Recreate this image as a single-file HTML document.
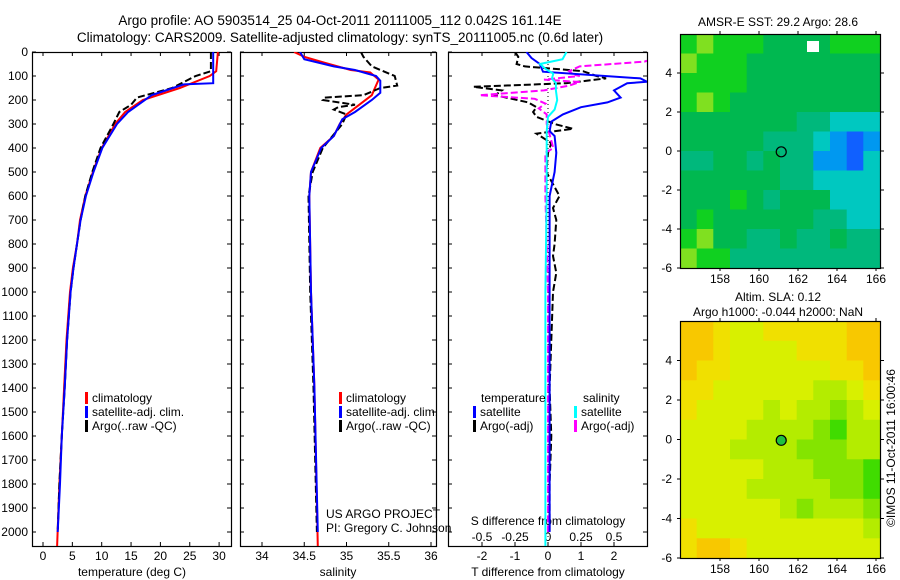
<!DOCTYPE html>
<html><head><meta charset="utf-8"><style>
body{margin:0;background:#fff;}
svg{display:block;font-family:"Liberation Sans",sans-serif;}
text{font-size:12px;fill:#000;}
</style></head><body>
<svg id="c" width="900" height="580" viewBox="0 0 900 580">
<text x="340" y="25" text-anchor="middle" style="font-size:13.5px">Argo profile: AO 5903514_25 04-Oct-2011 20111005_112 0.042S 161.14E</text>
<text x="340" y="42" text-anchor="middle" style="font-size:13.5px">Climatology: CARS2009. Satellite-adjusted climatology: synTS_20111005.nc (0.6d later)</text>
<g id="g"></g>
</svg>
<script>
// ---- data ----
const tDepth=[0,80,100,150,200,250,300,400,500,600,700,800,900,1000,1200,1400,1600,1800,2060];
const tClim=[29.8,29.5,28.4,23.3,17,14,12.3,10,8.5,7.2,6.3,5.8,5.1,4.6,4.0,3.6,3.2,2.8,2.4];
const tSatDepth=[0,130,135,180,250,300,400,500,600,700,800,900,1000,1200,1400,1600,1800,2000];
const tSat=[29.0,29.0,24,18.5,14.5,12.6,10.1,8.6,7.3,6.4,5.8,5.2,4.7,4.1,3.7,3.2,2.9,2.5];
const tArgoDepth=[0,80,100,150,190,220,250,300,400,500,600,700,800,900,1000,1200,1400,1600,1800,2000];
const tArgo=[28.6,28.6,26,22,16,15,13,12,9.8,8.4,7.2,6.4,5.8,5.2,4.7,4.1,3.7,3.2,2.8,2.5];
const sDepth=[0,20,46,75,85,115,180,220,260,300,350,400,500,600,1000,1400,2060];
const sClim=[34.38,34.5,34.75,35.05,35.28,35.38,35.3,35.15,35.0,34.92,34.85,34.69,34.58,34.56,34.58,34.62,34.66];
const sSatDepth=[0,30,60,75,100,120,170,200,250,280,350,400,500,600,1000,1400,2000];
const sSat=[34.45,34.5,34.85,35.1,35.35,35.4,35.4,35.3,35.1,34.95,34.85,34.7,34.58,34.56,34.58,34.62,34.66];
const sArgoDepth=[0,20,60,100,140,150,180,190,200,220,230,240,260,300,400,500,600,1000,1400,2000];
const sArgo=[35.17,35.2,35.3,35.57,35.6,35.4,35.2,34.74,34.72,35.1,34.9,34.85,35.0,34.95,34.72,34.6,34.55,34.57,34.61,34.65];
const dtSatDepth=[0,25,50,82,110,124,130,160,190,210,230,260,290,330,350,420,500,600,1000,1500,2000];
const dtSat=[-0.65,-0.5,-0.25,-0.15,2.8,3.0,2.4,2.0,2.2,1.8,1.0,0.45,0.1,0.05,0.2,0.25,0.2,0.05,0.05,0.05,0.05];
const dtArgoDepth=[0,20,50,60,80,100,110,130,145,160,180,210,230,250,270,300,320,340,380,420,500,600,650,700,800,850,920,1000,1200,1400,1600,1800,2000];
const dtArgo=[-1.0,-0.9,-0.95,-0.7,1.06,1.47,1.76,0.55,-2.26,-1.4,-1.6,-0.6,-0.35,-0.45,-0.35,0.2,0.76,-0.35,0.1,0.0,-0.05,0.35,0.15,0.25,0.2,0.15,0.25,0.15,0.1,0.05,0.1,0.05,0.05];
const dsSatDepth=[0,30,50,70,90,110,130,160,200,240,270,330,600,1000,2060];
const dsSat=[0.14,0.11,-0.06,-0.02,0.04,0.03,0.06,0.06,0.07,0.05,0.0,-0.01,-0.01,-0.02,-0.02];
const dsArgoDepth=[32,40,60,80,95,100,115,125,140,160,180,195,215,235,260,300,400,420,600,1000,1500,2000];
const dsArgo=[0.78,0.73,0.24,0.16,0.2,0.24,-0.03,0.24,0.16,-0.03,-0.52,-0.1,-0.02,-0.07,-0.01,-0.01,0.04,-0.02,-0.02,0.0,0.0,0.0];
// map grids (lat rows 6..-6, lon cols 156.2..166.4)
const sstGrid=[
"565554444555","655544444444","555544444444","565444444444",
"444444433222","444443332101","334434331102","444444332222",
"444543444222","454444443322","564433433433","655333333333"];
const slaGrid=[
"001221111100","001222211100","011222222110","112222223321",
"122223233432","222233334533","222333344433","222223334445",
"222233333445","222222343334","122222222223","100122222222"];
const depthTicks=[0,100,200,300,400,500,600,700,800,900,1000,1100,1200,1300,1400,1500,1600,1700,1800,1900,2000];
const tTicks=[0,5,10,15,20,25,30];
const sTicks=["34","34.5","35","35.5","36"];
const dtTicks=[-2,-1,0,1,2];
const dsTickLabels=["-0.5","-0.25","0","0.25","0.5"];
const dsTicks=[-0.5,-0.25,0,0.25,0.5];
const latTicks=[4,2,0,-2,-4,-6];
const lonTicks=[158,160,162,164,166];
const sstColors=["#1060ff","#0098f0","#00c8c0","#00b87c","#00b850","#10d020","#80e020"];
const slaColors=["#f8c800","#f0e000","#d8f000","#b4ec00","#84e400","#40dc00"];

// ---- helpers ----
const NS="http://www.w3.org/2000/svg";
const G=document.getElementById('g');
function el(tag,attrs,parent){const e=document.createElementNS(NS,tag);for(const k in attrs)e.setAttribute(k,attrs[k]);(parent||G).appendChild(e);return e;}
const yD=d=>52+d*0.24;
const P1={x0:32,x1:231},P2={x0:240,x1:436},P3={x0:448,x1:647},TOP=52,BOT=546;
const xT=t=>43+t*5.87;
const xS=s=>262+(s-34)*84.5;
const xDT=t=>548+t*33;
const xDS=s=>548+s*132;
function line(depths,vals,fx,color,dash,name){
  const pts=depths.map((d,i)=>fx(vals[i]).toFixed(1)+","+yD(d).toFixed(1)).join(" ");
  const p=el('polyline',{points:pts,fill:'none',stroke:color,'stroke-width':2,'clip-path':'url(#'+name.split('-')[0]+')'});
  if(dash)p.setAttribute('stroke-dasharray','7,3');
  
  
}
function clip(id,x0,x1,y0,y1){const d=el('clipPath',{id:id});el('rect',{x:x0,y:y0,width:x1-x0,height:y1-y0},d);}
clip('p1',P1.x0,P1.x1,TOP,BOT);clip('p2',P2.x0,P2.x1,TOP,BOT);clip('p3',P3.x0,P3.x1,TOP,BOT);
function frame(P,name){
  const r=el('rect',{x:P.x0+0.5,y:TOP+0.5,width:P.x1-P.x0,height:BOT-TOP,fill:'none',stroke:'#000','stroke-width':1.2});
  
  
  depthTicks.forEach(d=>{el('line',{x1:P.x0,x2:P.x0+4,y1:yD(d),y2:yD(d),stroke:'#000'});el('line',{x1:P.x1-4,x2:P.x1,y1:yD(d),y2:yD(d),stroke:'#000'});});
}
function xtick(x,label,y){el('line',{x1:x,x2:x,y1:BOT,y2:BOT-4,stroke:'#000'});el('line',{x1:x,x2:x,y1:TOP,y2:TOP+4,stroke:'#000'});
  const t=el('text',{x:x,y:y||560,'text-anchor':'middle'});t.textContent=label;
  
  }
function txt(x,y,s,name,anchor,extra){const t=el('text',Object.assign({x:x,y:y,'text-anchor':anchor||'start'},extra||{}));t.textContent=s;
  
  return t;}

// panel 1
frame(P1,'temperature-panel');frame(P2,'salinity-panel');frame(P3,'difference-panel');
depthTicks.forEach(d=>txt(28,yD(d)+4,String(d),'depth-tick-label','end'));
tTicks.forEach(t=>xtick(xT(t),String(t)));
sTicks.forEach(s=>xtick(xS(parseFloat(s)),s));
dtTicks.forEach(t=>xtick(xDT(t),String(t)));
dsTicks.forEach((s,i)=>{txt(xDS(s),541,dsTickLabels[i],'s-diff-tick-label','middle');});
txt(132,576,'temperature (deg C)','x-axis-title-temperature','middle');
txt(338,576,'salinity','x-axis-title-salinity','middle');
txt(548,576,'T difference from climatology','x-axis-title-t-diff','middle');
txt(548,525,'S difference from climatology','axis-title-s-diff','middle');
el('line',{x1:548,x2:548,y1:TOP,y2:BOT,stroke:'#000','stroke-dasharray':'1,3'});

line(tDepth,tClim,xT,'#f00',false,'p1-temp-climatology');
line(tArgoDepth,tArgo,xT,'#000',true,'p1-temp-argo');
line(tSatDepth,tSat,xT,'#00f',false,'p1-temp-satellite');
line(sDepth,sClim,xS,'#f00',false,'p2-sal-climatology');
line(sArgoDepth,sArgo,xS,'#000',true,'p2-sal-argo');
line(sSatDepth,sSat,xS,'#00f',false,'p2-sal-satellite');
line(dtArgoDepth,dtArgo,xDT,'#000',true,'p3-tdiff-argo');
line(dsArgoDepth,dsArgo,xDS,'#f0f',true,'p3-sdiff-argo');
line(dtSatDepth,dtSat,xDT,'#00f',false,'p3-tdiff-satellite');
line(dsSatDepth,dsSat,xDS,'#0ff',false,'p3-sdiff-satellite');

function leg(x,y,color,label,name){el('rect',{x:x,y:y-10,width:3,height:12,fill:color});txt(x+7,y,label,name);}
leg(85,402,'#f00','climatology','legend-climatology');leg(85,416,'#00f','satellite-adj. clim.','legend-satellite');leg(85,430,'#000','Argo(..raw -QC)','legend-argo');
leg(339,402,'#f00','climatology','legend-climatology-2');leg(339,416,'#00f','satellite-adj. clim.','legend-satellite-2');leg(339,430,'#000','Argo(..raw -QC)','legend-argo-2');
txt(481,402,'temperature','legend-temperature-header');txt(583,402,'salinity','legend-salinity-header');
leg(473,416,'#00f','satellite','legend-t-satellite');leg(473,430,'#000','Argo(-adj)','legend-t-argo');
leg(574,416,'#0ff','satellite','legend-s-satellite');leg(574,430,'#f0f','Argo(-adj)','legend-s-argo');
txt(326,518,'US ARGO PROJECT','credit-project');txt(326,532,'PI: Gregory C. Johnson','credit-pi');

// maps
function map(grid,colors,x0,y0,w,h,name,latTop,latPx){
  const rows=grid.length,cols=grid[0].length,cw=w/cols,ch=h/rows;
  grid.forEach((row,r)=>{for(let c=0;c<cols;c++){const v=+row[c];
    const cell=el('rect',{x:(x0+c*cw).toFixed(1),y:(y0+r*ch).toFixed(1),width:(cw+0.6).toFixed(1),height:(ch+0.6).toFixed(1),fill:colors[v]});
    
    }});
  const f=el('rect',{x:x0+0.5,y:y0+0.5,width:w,height:h,fill:'none',stroke:'#000','stroke-width':1.2});
  
  
  const yl=lat=>y0+(latTop-lat)*latPx, xl=lon=>720+(lon-158)*19.5;
  latTicks.forEach(l=>{const y=yl(l);el('line',{x1:x0+w,x2:x0+w+4,y1:y,y2:y,stroke:'#000'});el('line',{x1:x0-3,x2:x0,y1:y,y2:y,stroke:'#000'});txt(x0-8,y+4,String(l),'lat-tick-label','end');});
  lonTicks.forEach(l=>{const x=xl(l);el('line',{x1:x,x2:x,y1:y0+h,y2:y0+h+3,stroke:'#000'});el('line',{x1:x,x2:x,y1:y0-3,y2:y0,stroke:'#000'});txt(x,y0+h+15,String(l),'lon-tick-label','middle');});
  return {xl,yl};
}
const m1=map(sstGrid,sstColors,680,34,200,234,'sst-map',6,19.5);
el('circle',{cx:m1.xl(161.14),cy:m1.yl(-0.042),r:5,fill:'none',stroke:'#000','stroke-width':1.2});
el('rect',{x:807,y:41,width:12,height:11,fill:'#fff'});
txt(778,26,'AMSR-E SST: 29.2  Argo: 28.6','sst-map-title','middle');
const m2=map(slaGrid,slaColors,680,321,200,237,'sla-map',6,19.75);
el('circle',{cx:m2.xl(161.14),cy:m2.yl(-0.042),r:5,fill:'#20c040',stroke:'#000','stroke-width':1.2});
txt(778,301,'Altim. SLA: 0.12','sla-map-title','middle');
txt(778,316,'Argo h1000: -0.044 h2000: NaN','sla-map-subtitle','middle');
txt(0,0,'©IMOS 11-Oct-2011 16:00:46','timestamp','middle',{transform:'translate(895,448) rotate(-90)'});
</script>
</body></html>
